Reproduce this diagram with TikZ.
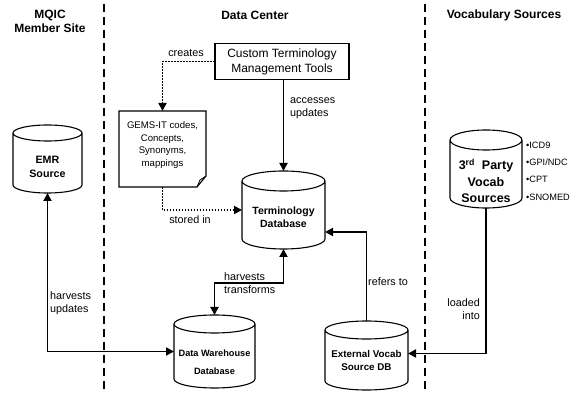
\documentclass[tikz,border=0pt]{standalone}
\usepackage{fontspec}
\setmainfont{Liberation Sans}
\usetikzlibrary{arrows.meta,calc}
\tikzset{
  holder/.style={rectangle, inner sep=0pt, outer sep=0pt},
  cylline/.style={line width=1.1pt},
  conn/.style={line width=1.8pt, -{Triangle[length=8pt,width=8pt]}},
  conn2/.style={line width=1.8pt, {Triangle[length=8pt,width=8pt]}-{Triangle[length=8pt,width=8pt]}},
  dotconn/.style={line width=1.7pt, dash pattern=on 1.7pt off 1.3pt, -{Triangle[length=8pt,width=8pt]}},
  sep/.style={line width=1.8pt, dash pattern=on 8pt off 5pt},
  title/.style={font=\fontsize{12}{13.5}\selectfont\bfseries, align=center, inner sep=0pt},
  lbl/.style={font=\fontsize{10.8}{13}\selectfont, align=left, inner sep=0pt},
  cyltext/.style={align=center, inner sep=0pt},
}
\newcommand\drawcyl[2]{%
  \draw[cylline] let \p1=(#1.north west), \p2=(#1.south east), \n1={(\x2-\x1)/2} in
    ($(#1.north)+(0,-#2)$) ellipse [x radius=\n1, y radius=#2pt]
    (\x1,\y1-#2pt) -- (\x1,\y2+#2pt) arc [start angle=180, end angle=360, x radius=\n1, y radius=#2pt] -- (\x2,\y1-#2pt);
}
\begin{document}
\begin{tikzpicture}[x=1pt,y=1pt]
\useasboundingbox (0,0) rectangle (574,394);
% separators
\coordinate (s1t) at (104,390);
\coordinate (s1b) at (104,0);
\coordinate (s2t) at (425,390);
\coordinate (s2b) at (425,0);
\draw[sep] (s1t) -- (s1b);
\draw[sep] (s2t) -- (s2b);
% titles
\node[title] (t1) at (50,372.5) {MQIC\\Member Site};
\node[title] (t2) at (255,379) {Data Center};
\node[title] (t3) at (504,379) {Vocabulary Sources};
% tools box
\node[holder, draw, line width=1.1pt, minimum width=134pt, minimum height=36pt,
      font=\fontsize{12}{15}\selectfont, align=center] (box) at (282,332.5)
      {Custom Terminology\\Management Tools};
% note
\node[holder, minimum width=87pt, minimum height=76pt] (note) at (162.5,245) {};
\draw[cylline] (note.north west) -- (note.north east) -- ([yshift=11]note.south east)
  -- ([xshift=-9]note.south east) -- (note.south west) -- cycle;
\draw[line width=0.8pt] ([xshift=-9]note.south east) -- ([xshift=-6,yshift=7]note.south east) -- ([yshift=11]note.south east);
\node[cyltext, font=\fontsize{9.6}{12.5}\selectfont] (notet) at (162.5,249)
  {GEMS-IT codes,\\Concepts,\\Synonyms,\\mappings};
% cylinders
\node[holder, minimum width=83pt, minimum height=78pt] (tdb) at (283.5,184) {};
\drawcyl{tdb}{10}
\node[cyltext, font=\fontsize{10.5}{12.5}\selectfont\bfseries] (tdbt) at (283.5,177) {Terminology\\Database};
\node[holder, minimum width=81pt, minimum height=73pt] (dw) at (214.5,42.5) {};
\drawcyl{dw}{9}
\node[cyltext, font=\fontsize{9.2}{18}\selectfont\bfseries] (dwt) at (214.5,32) {Data Warehouse\\Database};
\node[holder, minimum width=69pt, minimum height=68pt] (emr) at (47.5,235) {};
\drawcyl{emr}{8}
\node[cyltext, font=\fontsize{10.7}{13.5}\selectfont\bfseries] (emrt) at (47.5,227) {EMR\\Source};
\node[holder, minimum width=83pt, minimum height=69pt] (ext) at (366.5,38.5) {};
\drawcyl{ext}{9}
\node[cyltext, font=\fontsize{9.8}{13}\selectfont\bfseries] (extt) at (366.5,34) {External Vocab\\Source DB};
\node[holder, minimum width=72pt, minimum height=78pt] (vs) at (486,225) {};
\drawcyl{vs}{10}
\node[cyltext, font=\fontsize{12.5}{16.5}\selectfont\bfseries] (vst) at (486,213)
  {3\textsuperscript{rd}\ \ Party\\Vocab\\Sources};
\node[lbl, anchor=west, font=\fontsize{9.2}{17.3}\selectfont] (bul) at (526,223)
  {•ICD9\\•GPI/NDC\\•CPT\\•SNOMED};
% connectors
\draw[conn] (box.south -| tdb.north) -- (tdb.north);
\node[lbl, anchor=west] (l1) at (290,286) {accesses\\updates};
\draw[dotconn] (box.west) -| (note.north);
\node[lbl, align=center] (l2) at (186,341) {creates};
\draw[dotconn] (note.south) |- (tdb.west);
\node[lbl, align=center] (l3) at (190,174) {stored in};
\draw[conn2] (tdb.south) -- ++(0,-34) -| (dw.north);
\node[lbl, anchor=west] (l4) at (224,110.5) {harvests\\transforms};
\draw[conn2] (emr.south) |- (dw.west);
\node[lbl, anchor=west] (l5) at (50,91) {harvests\\updates};
\draw[conn] (ext.north) |- ([yshift=-22]tdb.east);
\node[lbl, anchor=west] (l6) at (368,112) {refers to};
\draw[conn] (vs.south) |- ([yshift=2]ext.east);
\node[lbl, anchor=east, align=right] (l7) at (480,84.5) {loaded\\into};
\end{tikzpicture}
\end{document}
